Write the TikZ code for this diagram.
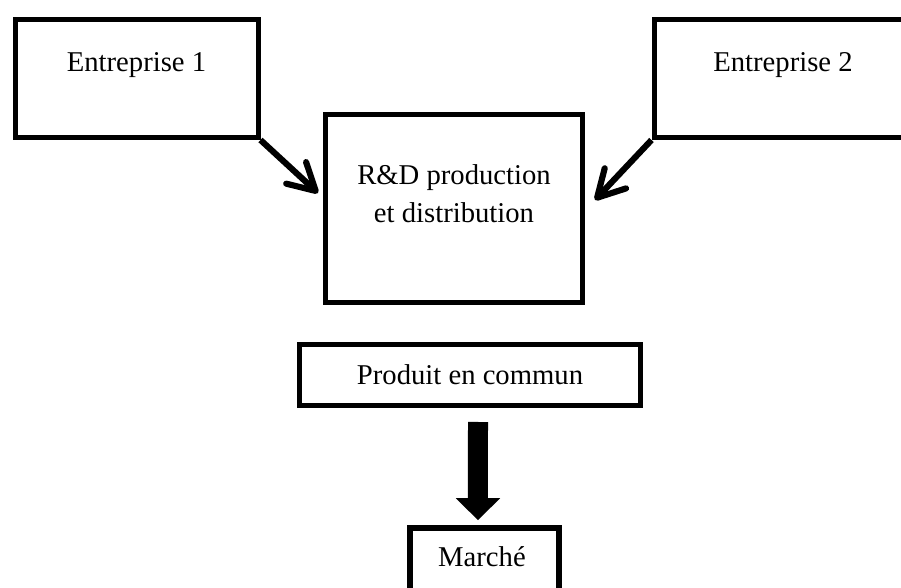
\documentclass[tikz,border=0pt]{standalone}
\usepackage{fontspec}
\setmainfont{Liberation Serif}
\usepackage{tikz}
\usetikzlibrary{arrows.meta, positioning, calc}

\begin{document}
\begin{tikzpicture}[
    x=0.75pt, y=-0.75pt,
    block/.style={rectangle, draw, line width=3.75pt, inner sep=0pt},
    label text/.style={font=\fontsize{21.5}{28.5}\selectfont, align=center, inner sep=0pt},
    line/.style={draw, line width=4.6pt, -{Straight Barb[length=20pt, width=22pt, round]}},
    bigline/.style={draw, line width=15pt, -{Triangle[width=32.25pt, length=16.5pt]}}
]
    \useasboundingbox (0,0) rectangle (901,588);
    \clip (0,0) rectangle (901,588);

    \node [block, minimum width=182.25pt, minimum height=88.5pt] (ent1) at (136.5,78.5) {};
    \node [block, minimum width=193.5pt, minimum height=88.5pt] (ent2) at (783,78.5) {};
    \node [block, minimum width=192.75pt, minimum height=141pt] (rd) at (454,208.5) {};
    \node [block, minimum width=255.75pt, minimum height=45.75pt, label text] (prod) at (470,375) {Produit en commun};
    \node [block, minimum width=111.75pt, minimum height=69pt, line width=4.2pt] (marche) at (484.5,574) {};

    \node [label text] (ent1text) at ([yshift=-36pt]ent1.north) {Entreprise 1};
    \node [label text] (ent2text) at ([yshift=-36pt]ent2.north) {Entreprise 2};
    \node [label text] (rdtext) at ([yshift=-61.5pt]rd.north) {R\&D production\\et distribution};
    \node [label text] (marchetext) at ([xshift=-1.9pt, yshift=-23.6pt]marche.north) {Marché};

    \draw [line] (ent1.south east) -- ([xshift=-3.75pt, yshift=11.6pt]rd.west);
    \draw [line] (ent2.south west) -- ([xshift=7.5pt, yshift=6.4pt]rd.east);

    \draw [bigline] ([xshift=6pt, yshift=-10.5pt]prod.south) -- ([xshift=-4.9pt, yshift=3.75pt]marche.north);

\end{tikzpicture}
\end{document}
